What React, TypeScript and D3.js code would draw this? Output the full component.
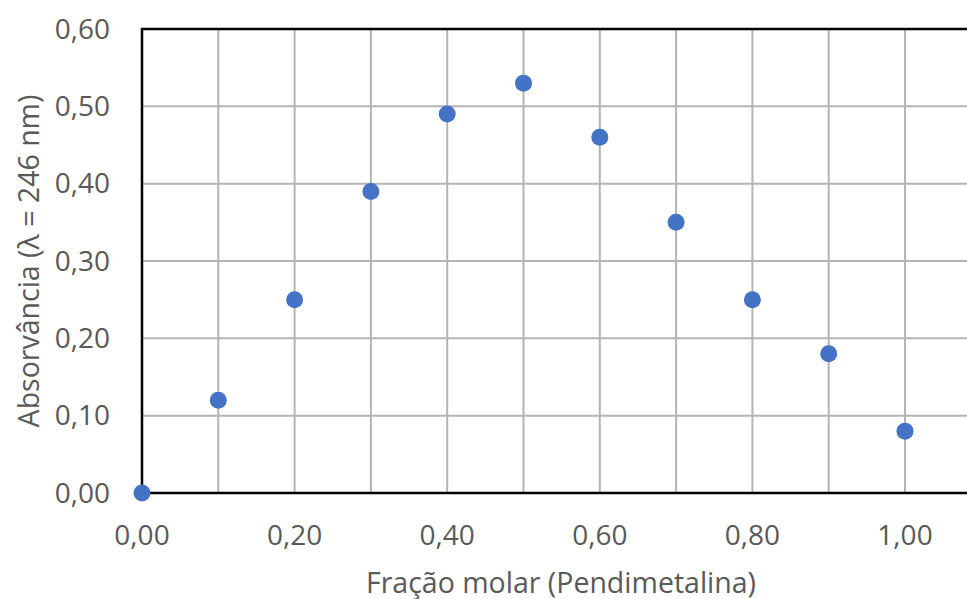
import { useEffect, useRef } from "react";
import * as d3 from "d3";

const fractions = [0, 0.1, 0.2, 0.3, 0.4, 0.5, 0.6, 0.7, 0.8, 0.9, 1.0];
const absorbances = [0, 0.12, 0.25, 0.39, 0.49, 0.53, 0.46, 0.35, 0.25, 0.18, 0.08];
const xTicks = [0, 0.2, 0.4, 0.6, 0.8, 1.0];
const xGrid = [0, 0.1, 0.2, 0.3, 0.4, 0.5, 0.6, 0.7, 0.8, 0.9, 1.0, 1.1, 1.2];
const yTicks = [0, 0.1, 0.2, 0.3, 0.4, 0.5, 0.6];

const xTitle = "Fração molar (Pendimetalina)";
const yTitle = "Absorvância (λ = 246 nm)";

export default function App() {
  const ref = useRef<SVGSVGElement>(null);

  useEffect(() => {
    const width = 967;
    const left = 142;
    const top = 29;
    const bottom = 493;

    const svg = d3.select(ref.current);
    svg.selectAll("*").remove();

    const x = d3.scaleLinear([0, 1.2], [left, left + 76.3 * 12]);
    const y = d3.scaleLinear([0, 0.6], [bottom, top]);
    const fmt = (v: number) => d3.format(".2f")(v).replace(".", ",");
    const font = "'Open Sans', sans-serif";

    const g = svg.append("g");

    // grid
    g.append("g")
      .selectAll("line")
      .data(xGrid.slice(1))
      .join("line")
      .attr("x1", (d) => x(d))
      .attr("x2", (d) => x(d))
      .attr("y1", top)
      .attr("y2", bottom)
      .attr("stroke", "#b4b4b4")
      .attr("stroke-width", 2);

    g.append("g")
      .selectAll("line")
      .data(yTicks.slice(1))
      .join("line")
      .attr("x1", left)
      .attr("x2", width + 50)
      .attr("y1", (d) => y(d))
      .attr("y2", (d) => y(d))
      .attr("stroke", "#b4b4b4")
      .attr("stroke-width", 2);

    // frame
    g.append("rect")
      .attr("x", left)
      .attr("y", top)
      .attr("width", x(1.2) - left)
      .attr("height", bottom - top)
      .attr("fill", "none")
      .attr("stroke", "#000")
      .attr("stroke-width", 2.5);

    // tick labels
    g.append("g")
      .selectAll("text")
      .data(yTicks)
      .join("text")
      .attr("x", 110)
      .attr("y", (d) => y(d))
      .attr("dy", "0.35em")
      .attr("text-anchor", "end")
      .attr("font-family", font)
      .attr("font-size", 28)
      .attr("fill", "#595959")
      .text((d) => fmt(d));

    g.append("g")
      .selectAll("text")
      .data(xTicks)
      .join("text")
      .attr("x", (d) => x(d))
      .attr("y", 535)
      .attr("dy", "0.35em")
      .attr("text-anchor", "middle")
      .attr("font-family", font)
      .attr("font-size", 28)
      .attr("fill", "#595959")
      .text((d) => fmt(d));

    // titles
    g.append("text")
      .attr("x", 561)
      .attr("y", 583)
      .attr("dy", "0.35em")
      .attr("text-anchor", "middle")
      .attr("font-family", font)
      .attr("font-size", 28.5)
      .attr("fill", "#595959")
      .text(xTitle);

    g.append("text")
      .attr("transform", `translate(29,261) rotate(-90)`)
      .attr("dy", "0.35em")
      .attr("text-anchor", "middle")
      .attr("font-family", font)
      .attr("font-size", 28.5)
      .attr("fill", "#595959")
      .text(yTitle);

    // points
    g.append("g")
      .selectAll("circle")
      .data(fractions)
      .join("circle")
      .attr("cx", (d) => x(d))
      .attr("cy", (d, i) => y(absorbances[i]))
      .attr("r", 8.5)
      .attr("fill", "#4472c4");
  }, []);

  return (
    <svg
      ref={ref}
      width={967}
      height={599}
      style={{ position: "absolute", left: 0, top: 0, background: "#fff" }}
    />
  );
}
